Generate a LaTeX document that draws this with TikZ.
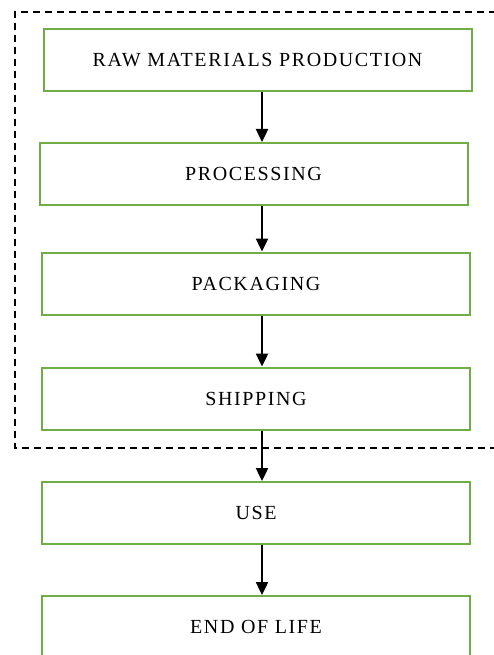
\documentclass[tikz,border=0pt]{standalone}
\usepackage{fontspec}
\setmainfont{Liberation Serif}
\newfontfamily\stagefont[LetterSpace=8]{Liberation Serif}
\usetikzlibrary{arrows.meta}
\definecolor{boxgreen}{RGB}{112,173,71}
\tikzset{
    stage/.style={draw=boxgreen,line width=2pt,fill=white,
        minimum width=428pt,minimum height=62pt,inner sep=0pt,
        font=\stagefont\fontsize{20}{23}\selectfont},
    flow/.style={-{Triangle[width=12pt,length=13pt]},line width=2.4pt},
    frame/.style={line width=1.8pt,dash pattern=on 7pt off 5pt}
}
\begin{document}
\begin{tikzpicture}[x=1pt,y=-1pt]
    
            \clip (0,0) rectangle (494,655);
            \useasboundingbox (0,0) rectangle (494,655);
            \fill[white] (0,0) rectangle (494,655);
            
            % system boundary
            \draw[frame] (520,12) -- (15,12) -- (15,448) -- (520,448);
            
            \node[stage] (raw)  at (257.5, 60  ) {RAW MATERIALS PRODUCTION};
            \node[stage] (proc) at (253.5,174  ) {PROCESSING};
            \node[stage] (pack) at (256,  283.5) {PACKAGING};
            \node[stage] (ship) at (256,  398.5) {SHIPPING};
            \node[stage] (use)  at (256,  513  ) {USE};
            \node[stage] (eol)  at (256,  627  ) {END OF LIFE};
            
            \coordinate (spine) at (262,0);
            
            \draw[flow] (raw.south  -| spine) -- (proc.north -| spine);
            \draw[flow] (proc.south -| spine) -- (pack.north -| spine);
            \draw[flow] (pack.south -| spine) -- (ship.north -| spine);
            \draw[flow] (ship.south -| spine) -- (use.north  -| spine);
            \draw[flow] (use.south  -| spine) -- (eol.north  -| spine);
        
        \end{tikzpicture}
\end{document}
